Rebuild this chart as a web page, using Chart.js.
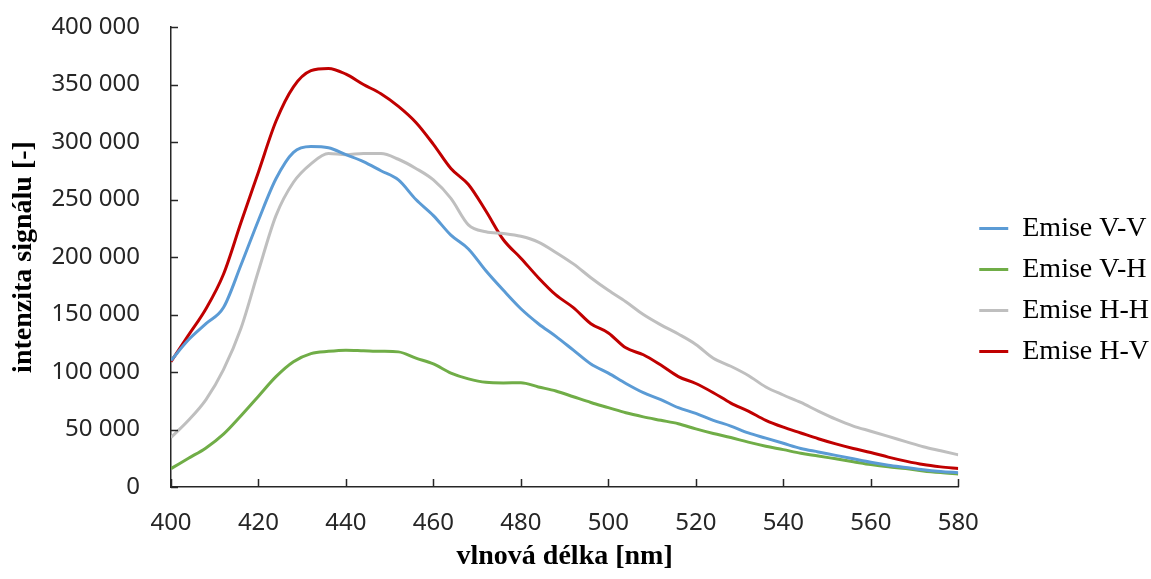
<!DOCTYPE html>
<html>
<head>
<meta charset="utf-8">
<script src="https://cdn.jsdelivr.net/npm/chart.js@4/dist/chart.umd.min.js"></script>
<style>
  html, body { margin: 0; padding: 0; background: #ffffff; }
  #wrap { width: 1151px; height: 579px; position: relative; }
</style>
</head>
<body>
<div id="wrap"><canvas id="c" width="1151" height="579"></canvas></div>
<script>
// ---- data ----
const wavelengths = [400,404,408,412,416,420,424,428,432,436,440,444,448,452,456,460,464,468,472,476,480,484,488,492,496,500,504,508,512,516,520,524,528,532,536,540,544,548,552,556,560,564,568,572,576,580];

const seriesNames = ['Emise V-V', 'Emise V-H', 'Emise H-H', 'Emise H-V'];

const emiseVV = [110000,128000,142000,156000,193000,232000,268000,291000,296000,295000,289000,283000,275000,267000,250000,236000,219000,207000,188000,171000,155000,142000,131000,119000,107000,99000,90000,82000,76000,69000,64000,58000,53000,47000,42500,38000,33500,30500,27500,24500,21500,19000,17000,15000,13500,12400];

const emiseVH = [16000,25000,34000,46000,62000,79000,96000,109000,116000,118000,119000,118500,118000,117500,112000,107000,99000,94000,91000,90500,90700,87000,83500,78500,73500,69000,64500,61000,58000,55000,50500,46500,43000,39000,35500,32500,29300,27000,24500,22000,19500,17500,16000,14000,12500,11300];

const emiseHH = [43000,58000,76000,102000,138000,188000,236000,265000,281000,290000,289000,290000,290000,285000,277000,267000,251000,228000,222000,220500,218000,213000,204000,194000,182000,171000,161000,150000,141000,133000,124000,112000,105000,97000,87000,80000,73500,66000,59000,53000,48500,44000,39500,35000,31500,28000];

const emiseHV = [109000,132000,155000,185000,230000,274000,318000,348000,362000,364000,359000,350000,342000,331000,317000,298000,277000,263000,240000,215000,199000,182000,167000,156000,142000,134000,121000,115000,106000,96000,90000,82000,73000,66000,58000,52000,47000,42000,37500,33500,30000,26000,22500,19500,17500,16000];

const xTickValues = [400,420,440,460,480,500,520,540,560,580];
const yTickValues = [0,50000,100000,150000,200000,250000,300000,350000,400000];
const yTickLabels = ['0','50 000','100 000','150 000','200 000','250 000','300 000','350 000','400 000'];

const xTitle = 'vlnová délka [nm]';
const yTitle = 'intenzita signálu [-]';

// ---- styles ----
const colors = ['#5B9BD5', '#70AD47', '#BFBFBF', '#C00000'];
const allSeries = [emiseVV, emiseVH, emiseHH, emiseHV];

function toPoints(vals) {
  return wavelengths.map((w, i) => ({ x: w, y: vals[i] }));
}

const datasets = allSeries.map((vals, i) => ({
  label: seriesNames[i],
  data: toPoints(vals),
  borderColor: colors[i],
  backgroundColor: colors[i],
  borderWidth: 3,
  pointRadius: 0,
  pointHoverRadius: 0,
  fill: false,
  cubicInterpolationMode: 'monotone'
}));

const axisColor = '#262626';
const legendShiftUp = 13;
const legendShiftRight = 8;

// inward tick marks, positioned by the library's scales; legend nudge
const innerTicks = {
  id: 'innerTicks',
  afterLayout(chart) {
    const l = chart.legend;
    if (l) {
      l.top -= legendShiftUp; l.bottom -= legendShiftUp;
      l.left += legendShiftRight; l.right += legendShiftRight;
    }
  },
  afterDatasetsDraw(chart) {
    const { ctx, chartArea, scales } = chart;
    ctx.save();
    ctx.strokeStyle = axisColor;
    ctx.lineWidth = 1.5;
    ctx.beginPath();
    xTickValues.forEach(v => {
      const px = Math.round(scales.x.getPixelForValue(v)) + 0.5;
      ctx.moveTo(px, chartArea.bottom);
      ctx.lineTo(px, chartArea.bottom - 8);
    });
    yTickValues.forEach(v => {
      const py = Math.round(scales.y.getPixelForValue(v)) + 0.5;
      ctx.moveTo(chartArea.left, py);
      ctx.lineTo(chartArea.left + 7, py);
    });
    ctx.stroke();
    ctx.restore();
  }
};

new Chart(document.getElementById('c'), {
  type: 'line',
  data: { datasets },
  plugins: [innerTicks],
  options: {
    responsive: false,
    animation: false,
    devicePixelRatio: 1,
    layout: { padding: { top: 27, right: 0, left: 0, bottom: 0 } },
    plugins: {
      tooltip: { enabled: false },
      legend: {
        position: 'right',
        align: 'center',
        labels: {
          usePointStyle: true,
          pointStyle: 'line',
          pointStyleWidth: 29,
          boxHeight: 27,
          padding: 13,
          color: '#000000',
          font: { family: '"Liberation Serif", "Times New Roman", serif', size: 28 }
        }
      }
    },
    scales: {
      x: {
        type: 'linear',
        min: 400,
        max: 580,
        afterBuildTicks(scale) { scale.ticks = xTickValues.map(v => ({ value: v })); },
        afterFit(scale) { scale.height = 92; },
        grid: { display: false, drawTicks: false },
        border: { display: true, color: axisColor, width: 1.5 },
        ticks: {
          padding: 22,
          color: axisColor,
          font: { family: '"Noto Sans", sans-serif', size: 24 },
          maxRotation: 0,
          callback: (v) => String(v)
        },
        title: {
          display: true,
          text: xTitle,
          color: '#000000',
          padding: { top: 0, bottom: 5 },
          font: { family: '"Liberation Serif", "Times New Roman", serif', size: 28, weight: 'bold' }
        }
      },
      y: {
        type: 'linear',
        min: 0,
        max: 400000,
        afterBuildTicks(scale) { scale.ticks = yTickValues.map(v => ({ value: v })); },
        afterFit(scale) { scale.width = 171; scale.paddingTop = 0; },
        grid: { display: false, drawTicks: false },
        border: { display: true, color: axisColor, width: 1.5 },
        ticks: {
          padding: 31,
          color: axisColor,
          font: { family: '"Noto Sans", sans-serif', size: 24 },
          callback: (v) => {
            const i = yTickValues.indexOf(v);
            return i >= 0 ? yTickLabels[i] : '';
          }
        },
        title: {
          display: true,
          text: yTitle,
          color: '#000000',
          padding: { top: 7, bottom: 11 },
          font: { family: '"Liberation Serif", "Times New Roman", serif', size: 28, weight: 'bold' }
        }
      }
    }
  }
});
</script>
</body>
</html>
